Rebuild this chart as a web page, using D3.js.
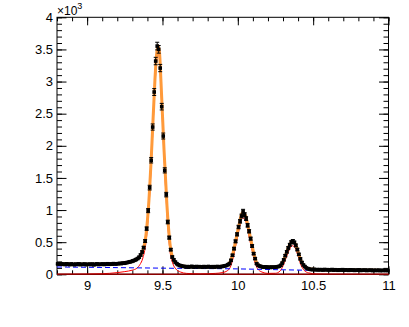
<!DOCTYPE html>
<html lang="en">
<head>
<meta charset="UTF-8">
<title>Upsilon mass fit</title>
<script src="https://cdn.jsdelivr.net/npm/d3@7"></script>
<style>
    body { margin: 0; background: #fff; }
    svg text { font-family: "Liberation Sans", Arial, Helvetica, sans-serif; }
</style>
</head>
<body>
<svg id="chart" width="409" height="327"></svg>
<script>
// histogram: 220 bins of width 0.01 between 8.8 and 11
var binLo = 8.8, binW = 0.01;
var counts = [
    // 8.805 - 9.195
    162,158,165,155,160,152,163,157,150,161,
    156,148,159,154,162,150,157,153,160,149,
    155,158,151,160,147,156,162,152,158,155,
    161,153,159,164,156,160,158,166,161,163,
    // 9.205 - 9.355
    165,170,166,174,172,178,183,188,195,200,210,218,230,245,265,300,
    // 9.365 - 9.565 (1S)
    347,415,518,711,991,1349,1775,2292,2837,3319,3552,3501,3210,2609,2152,1618,1240,814,571,384,269,
    // 9.575 - 9.935
    225,190,165,148,138,130,125,
    122,115,120,113,118,124,112,117,121,114,119,116,111,120,117,113,122,116,114,119,112,118,121,115,
    118,122,126,132,138,150,
    // 9.945 - 10.155 (2S)
    166,218,296,400,513,622,736,825,907,980,929,867,762,669,555,440,322,244,166,140,128,120,
    // 10.165 - 10.275
    114,110,116,108,112,106,113,109,111,115,118,125,
    // 10.285 - 10.465 (3S)
    140,175,225,290,350,410,460,500,518,495,450,385,310,240,185,145,120,98,88,
    // 10.475 - 10.995
    80,76,72,78,70,74,68,73,71,66,
    75,69,72,67,70,74,65,71,68,63,
    70,66,72,64,69,67,62,70,65,68,
    61,66,64,69,60,65,63,67,59,64,
    62,66,58,63,61,60,65,57,62,59,
    63,58,61
];

// fit curves, sampled
var fitX = [8.80, 8.90, 9.00, 9.10, 9.20, 9.25, 9.30, 9.33, 9.35, 9.37, 9.39, 9.41, 9.43, 9.45, 9.46, 9.47, 9.48, 9.49,
            9.51, 9.53, 9.55, 9.57, 9.59, 9.62, 9.66, 9.75, 9.85, 9.90, 9.93, 9.95, 9.97, 9.99, 10.01, 10.03, 10.05,
            10.07, 10.09, 10.11, 10.13, 10.16, 10.20, 10.25, 10.28, 10.30, 10.32, 10.34, 10.36, 10.38, 10.40, 10.42,
            10.44, 10.47, 10.52, 10.60, 10.75, 10.90, 11.00];
var fitTotal = [158, 157, 157, 158, 165, 175, 203, 235, 275, 370, 600, 1150, 2030, 3030, 3400, 3560, 3460, 3000,
                1950, 1060, 470, 240, 172, 135, 122, 118, 118, 124, 145, 200, 350, 570, 790, 960, 920,
                720, 500, 290, 160, 122, 112, 112, 128, 200, 320, 440, 512, 480, 350, 205,
                130, 88, 73, 70, 66, 62, 60];
var fitSignal = [0, 2, 4, 9, 26, 42, 65, 95, 150, 255, 490, 1040, 1920, 2920, 3290, 3450, 3350, 2890,
                 1840, 950, 360, 160, 80, 35, 14, 7, 14, 28, 55, 110, 265, 490, 710, 880, 840,
                 640, 420, 215, 90, 35, 14, 16, 50, 130, 252, 372, 445, 413, 283, 140,
                 62, 22, 6, 2, 0, 0, 0];
var bkgX = [8.80, 9.20, 9.60, 10.00, 10.30, 10.47];
var bkgVal = [114, 104, 93, 84, 70, 63];

var xMajor = [9, 9.5, 10, 10.5, 11];
var xLabels = ["9", "9.5", "10", "10.5", "11"];
var yMajor = [0, 500, 1000, 1500, 2000, 2500, 3000, 3500, 4000];
var yLabels = ["0", "0.5", "1", "1.5", "2", "2.5", "3", "3.5", "4"];

var m = {left: 57, right: 388.5, top: 17.3, bottom: 274.3};

var x = d3.scaleLinear().domain([8.8, 11]).range([m.left, m.right]);
var y = d3.scaleLinear().domain([0, 4000]).range([m.bottom, m.top]);

var svg = d3.select('#chart');

svg.append('rect')
    .attr('x', m.left).attr('y', m.top)
    .attr('width', m.right - m.left).attr('height', m.bottom - m.top)
    .attr('fill', '#fff').attr('stroke', '#000').attr('stroke-width', 1);

var xMinor = d3.range(88, 111).map(function(d){ return d / 10; });
var yMinor = d3.range(0, 41).map(function(d){ return d * 100; });

function tickAxis(axis, vals, size, fmt){
    return axis.tickValues(vals).tickSizeInner(-size).tickSizeOuter(0).tickFormat(fmt);
}
var noLabel = function(){ return ''; };

// minor + major ticks on all four sides
[[d3.axisBottom(x), 'translate(0,' + m.bottom + ')', 4, 8],
 [d3.axisTop(x), 'translate(0,' + m.top + ')', 4, 8]].forEach(function(a){
    svg.append('g').attr('transform', a[1]).call(tickAxis(a[0], xMinor, a[2], noLabel));
});
[[d3.axisLeft(y), 'translate(' + m.left + ',0)', 5, 9.5],
 [d3.axisRight(y), 'translate(' + m.right + ',0)', 5, 9.5]].forEach(function(a){
    svg.append('g').attr('transform', a[1]).call(tickAxis(a[0], yMinor, a[2], noLabel));
});

svg.append('g').attr('transform', 'translate(0,' + m.bottom + ')')
    .call(tickAxis(d3.axisBottom(x), xMajor, 8, function(d, i){ return xLabels[i]; }).tickPadding(6));
svg.append('g').attr('transform', 'translate(0,' + m.top + ')')
    .call(tickAxis(d3.axisTop(x), xMajor, 8, noLabel));
svg.append('g').attr('transform', 'translate(' + m.left + ',0)')
    .call(tickAxis(d3.axisLeft(y), yMajor, 9.5, function(d, i){ return yLabels[i]; }).tickPadding(4));
svg.append('g').attr('transform', 'translate(' + m.right + ',0)')
    .call(tickAxis(d3.axisRight(y), yMajor, 9.5, noLabel));

svg.selectAll('.domain').remove();
svg.selectAll('.tick line').attr('stroke', '#000');
svg.selectAll('.tick text').attr('font-size', 13).attr('fill', '#000')
    .style('font-family', '"Liberation Sans", Arial, sans-serif');

// exponent
var ex = svg.append('text').attr('x', 57).attr('y', 15).attr('font-size', 12);
ex.append('tspan').text('\u00d710');
ex.append('tspan').attr('dy', -6).attr('font-size', 9).text('3');

// curves
var line = d3.line().curve(d3.curveMonotoneX);

svg.append('path')
    .attr('d', line(fitX.map(function(d, i){ return [x(d), y(fitSignal[i])]; })))
    .attr('fill', 'none').attr('stroke', '#ff0000').attr('stroke-width', 1);

svg.append('path')
    .attr('d', line(fitX.map(function(d, i){ return [x(d), y(fitTotal[i])]; })))
    .attr('fill', 'none').attr('stroke', '#ff9a3a').attr('stroke-width', 3);

svg.append('path')
    .attr('d', line(bkgX.map(function(d, i){ return [x(d), y(bkgVal[i])]; })))
    .attr('fill', 'none').attr('stroke', '#0000ff').attr('stroke-width', 1)
    .attr('stroke-dasharray', '5,3');

svg.append('line')
    .attr('x1', x(8.8)).attr('x2', x(11)).attr('y1', y(0)).attr('y2', y(0))
    .attr('stroke', '#8b0000').attr('stroke-width', 1.5);

// data points with poisson errors
var pts = counts.map(function(c, i){ return {x: binLo + (i + 0.5) * binW, v: c}; });

var g = svg.append('g');
g.selectAll('line.err').data(pts).enter().append('line')
    .attr('class', 'err')
    .attr('x1', function(d){ return x(d.x); })
    .attr('x2', function(d){ return x(d.x); })
    .attr('y1', function(d){ return y(d.v - Math.sqrt(d.v)); })
    .attr('y2', function(d){ return y(d.v + Math.sqrt(d.v)); })
    .attr('stroke', '#000').attr('stroke-width', 1);
g.selectAll('path.cap').data(pts).enter().append('path')
    .attr('class', 'cap')
    .attr('d', function(d){
        var cx = x(d.x), lo = y(d.v - Math.sqrt(d.v)), hi = y(d.v + Math.sqrt(d.v));
        return 'M' + (cx - 2) + ',' + lo + 'H' + (cx + 2) + 'M' + (cx - 2) + ',' + hi + 'H' + (cx + 2);
    })
    .attr('stroke', '#000').attr('stroke-width', 1);
g.selectAll('rect').data(pts).enter().append('rect')
    .attr('x', function(d){ return x(d.x) - 1.8; })
    .attr('y', function(d){ return y(d.v) - 1.8; })
    .attr('width', 3.6).attr('height', 3.6)
    .attr('fill', '#000');
</script>
</body>
</html>
